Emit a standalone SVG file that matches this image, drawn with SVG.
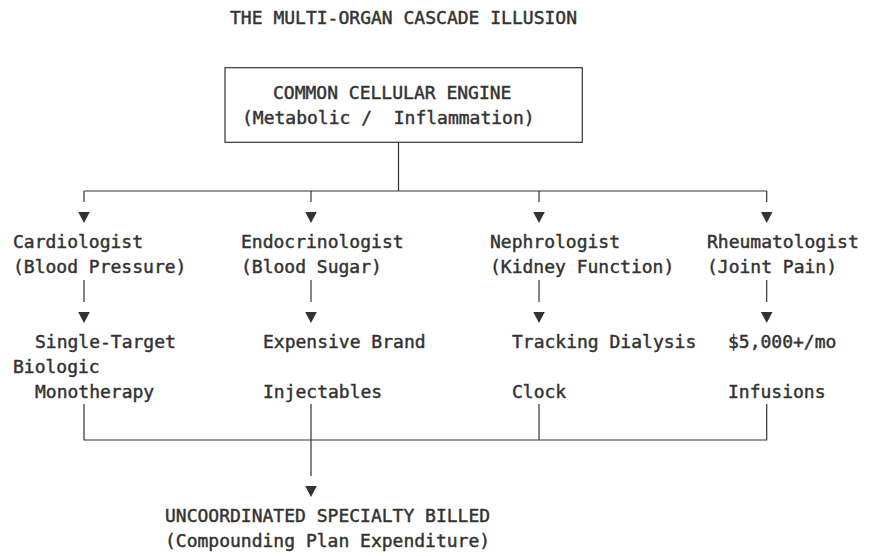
<svg xmlns="http://www.w3.org/2000/svg" width="878" height="556" viewBox="0 0 878 556">
<style>
text { font-family: "DejaVu Sans Mono", "Liberation Mono", monospace; font-size: 18px; fill: #333333; stroke: #333333; stroke-width: 0.45; }
.ln { fill: none; stroke: #333333; stroke-width: 1.2; }
.arr { fill: none; stroke: #333333; stroke-width: 1.2; marker-end: url(#tri); }
</style>
<defs>
<marker id="tri" markerUnits="userSpaceOnUse" markerWidth="14" markerHeight="24" viewBox="0 0 14 24" refX="7" refY="0" orient="0" overflow="visible">
<path d="M1.2 10 H12.8 L7 21 Z" fill="#333333"/>
</marker>
</defs>
<rect width="878" height="556" fill="#ffffff"/>
<g id="title"><text x="230" y="24" textLength="347" lengthAdjust="spacing">THE MULTI-ORGAN CASCADE ILLUSION</text></g>
<g id="engine">
<rect class="ln" x="225" y="67.7" width="357.3" height="74.6"/>
<text x="273" y="99">COMMON CELLULAR ENGINE</text>
<text x="242" y="123.6" xml:space="preserve">(Metabolic /  Inflammation)</text>
</g>
<g id="connectors">
<path class="ln" d="M398.5 142.3 V191 M84 191 H766.7"/>
<path class="arr" d="M84 191 V202"/>
<path class="arr" d="M311 191 V202"/>
<path class="arr" d="M539 191 V202"/>
<path class="arr" d="M766.7 191 V202"/>
<path class="arr" d="M84 280 V302"/>
<path class="arr" d="M311 280 V302"/>
<path class="arr" d="M539 280 V302"/>
<path class="arr" d="M766.7 280 V302"/>
<path class="ln" d="M84 404 V440 H766.7 V404 M539 404 V440"/>
<path class="arr" d="M311 404 V476"/>
</g>
<g id="cardiologist"><text x="13" y="248">Cardiologist</text><text x="13" y="272.5">(Blood Pressure)</text></g>
<g id="endocrinologist"><text x="241" y="248">Endocrinologist</text><text x="241" y="272.5">(Blood Sugar)</text></g>
<g id="nephrologist"><text x="490" y="248">Nephrologist</text><text x="490" y="272.5">(Kidney Function)</text></g>
<g id="rheumatologist"><text x="707" y="248">Rheumatologist</text><text x="707" y="272.5">(Joint Pain)</text></g>
<g id="biologic"><text x="35" y="348">Single-Target</text><text x="13" y="373">Biologic</text><text x="35" y="397.5">Monotherapy</text></g>
<g id="injectables"><text x="263" y="348">Expensive Brand</text><text x="263" y="397.5">Injectables</text></g>
<g id="dialysis"><text x="512" y="348">Tracking Dialysis</text><text x="512" y="397.5">Clock</text></g>
<g id="infusions"><text x="728" y="348">$5,000+/mo</text><text x="728" y="397.5">Infusions</text></g>
<g id="billed"><text x="165" y="522">UNCOORDINATED SPECIALTY BILLED</text><text x="165" y="547">(Compounding Plan Expenditure)</text></g>
</svg>
